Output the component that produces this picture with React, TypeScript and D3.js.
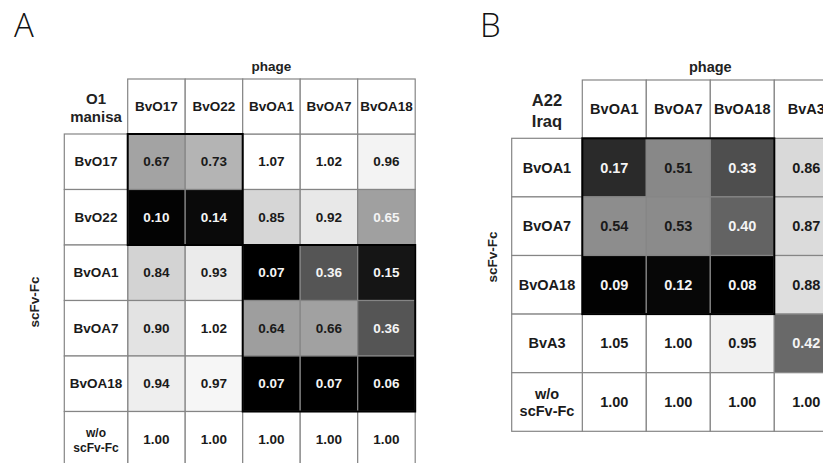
import React from "react";
import * as d3 from "d3";

// ---------- Panel A data ----------
const colsA = ["BvO17", "BvO22", "BvOA1", "BvOA7", "BvOA18"];
const rowsA = ["BvO17", "BvO22", "BvOA1", "BvOA7", "BvOA18", "w/o scFv-Fc"];
const valuesA: number[][] = [
  [0.67, 0.73, 1.07, 1.02, 0.96],
  [0.10, 0.14, 0.85, 0.92, 0.65],
  [0.84, 0.93, 0.07, 0.36, 0.15],
  [0.90, 1.02, 0.64, 0.66, 0.36],
  [0.94, 0.97, 0.07, 0.07, 0.06],
  [1.00, 1.00, 1.00, 1.00, 1.00],
];
const cornerA = ["O1", "manisa"];
// blocks outlined in black: [firstRow, lastRow, firstCol, lastCol]
const blocksA: [number, number, number, number][] = [
  [0, 1, 0, 1],
  [2, 4, 2, 4],
];

// ---------- Panel B data ----------
const colsB = ["BvOA1", "BvOA7", "BvOA18", "BvA3"];
const rowsB = ["BvOA1", "BvOA7", "BvOA18", "BvA3", "w/o scFv-Fc"];
const valuesB: number[][] = [
  [0.17, 0.51, 0.33, 0.86],
  [0.54, 0.53, 0.40, 0.87],
  [0.09, 0.12, 0.08, 0.88],
  [1.05, 1.00, 0.95, 0.42],
  [1.00, 1.00, 1.00, 1.00],
];
const cornerB = ["A22", "Iraq"];
const blocksB: [number, number, number, number][] = [[0, 2, 0, 2]];

const columnTitle = "phage";
const rowTitle = "scFv-Fc";
// cells whose value label is printed in white despite a light-ish fill
const whiteLabelCells = ["BvO22|BvOA18"];

const grey = d3
  .scaleLinear<number>()
  .domain([0.08, 0.14, 0.17, 0.36, 0.51, 0.67, 0.85, 0.92, 1.0])
  .range([0, 10, 42, 85, 136, 163, 214, 232, 255])
  .clamp(true);
const fillFor = (v: number) => {
  const g = Math.round(grey(v));
  return d3.rgb(g, g, g).formatHex();
};

const FONT = "'Liberation Sans', Arial, sans-serif";
const LINE = "#858585";

type PanelProps = {
  letter: string;
  letterX: number;
  cols: string[];
  rows: string[];
  values: number[][];
  corner: string[];
  blocks: [number, number, number, number][];
  x0: number;
  colW: number;
  headerTop: number;
  headerBottom: number;
  rowH: number;
  labelLeft: number;
  fs: number;
  labelFs: number;
  woFs: number;
  woDy: [number, number];
  cornerFs: number;
  cornerY: [number, number];
  rowTitleX: number;
  rowTitleY: number;
  rowTitleFs: number;
};

function Panel(p: PanelProps) {
  const x = d3
    .scaleBand<string>()
    .domain(p.cols)
    .range([p.x0, p.x0 + p.colW * p.cols.length]);
  const y = d3
    .scaleBand<string>()
    .domain(p.rows)
    .range([p.headerBottom, p.headerBottom + p.rowH * p.rows.length]);
  const right = x.range()[1];
  const labelCx = (p.labelLeft + p.x0) / 2;
  const midX = (p.x0 + right) / 2;
  const bw = x.bandwidth();
  const bh = y.bandwidth();
  return (
    <g>
      <text
        x={p.letterX}
        y={37}
        fontFamily="'Open Sans', 'Noto Sans', sans-serif"
        fontWeight={300}
        fontSize={33}
        fill="#111"
      >
        {p.letter}
      </text>
      {/* phage title */}
      <text
        x={midX}
        y={p.headerTop - 8}
        textAnchor="middle"
        fontFamily={FONT}
        fontWeight="bold"
        fontSize={p.fs}
        fill="#222"
      >
        {columnTitle}
      </text>
      {/* row title */}
      <text
        transform={`translate(${p.rowTitleX},${p.rowTitleY}) rotate(-90)`}
        textAnchor="middle"
        dominantBaseline="central"
        fontFamily={FONT}
        fontWeight="bold"
        fontSize={p.rowTitleFs}
        fill="#222"
      >
        {rowTitle}
      </text>
      {/* corner label */}
      {p.corner.map((t, i) => (
        <text
          key={t}
          x={labelCx}
          y={p.cornerY[i]}
          textAnchor="middle"
          fontFamily={FONT}
          fontWeight="bold"
          fontSize={p.cornerFs}
          fill="#222"
        >
          {t}
        </text>
      ))}
      {/* cells */}
      {p.rows.map((r, i) =>
        p.cols.map((c, j) => {
          const v = p.values[i][j];
          const white = v < 0.45 || whiteLabelCells.includes(`${r}|${c}`);
          return (
            <g key={`${r}-${c}`}>
              <rect
                x={x(c)}
                y={y(r)}
                width={bw}
                height={bh}
                fill={fillFor(v)}
                stroke={LINE}
                strokeWidth={1.2}
              />
              <text
                x={(x(c) as number) + bw / 2}
                y={(y(r) as number) + bh / 2}
                textAnchor="middle"
                dominantBaseline="central"
                fontFamily={FONT}
                fontWeight="bold"
                fontSize={p.fs}
                fill={white ? "#f4f4f4" : "#1a1a1a"}
              >
                {v.toFixed(2)}
              </text>
            </g>
          );
        })
      )}
      {/* column headers */}
      {p.cols.map((c) => (
        <g key={`h-${c}`}>
          <rect
            x={x(c)}
            y={p.headerTop}
            width={bw}
            height={p.headerBottom - p.headerTop}
            fill="#fff"
            stroke={LINE}
            strokeWidth={1.2}
          />
          <text
            x={(x(c) as number) + bw / 2}
            y={(p.headerTop + p.headerBottom) / 2}
            textAnchor="middle"
            dominantBaseline="central"
            fontFamily={FONT}
            fontWeight="bold"
            fontSize={p.fs}
            fill="#1a1a1a"
          >
            {c}
          </text>
        </g>
      ))}
      {/* row headers */}
      {p.rows.map((r) => {
        const parts = r.startsWith("w/o") ? ["w/o", "scFv-Fc"] : [r];
        const cy = (y(r) as number) + bh / 2;
        return (
          <g key={`r-${r}`}>
            <rect
              x={p.labelLeft}
              y={y(r)}
              width={p.x0 - p.labelLeft}
              height={bh}
              fill="#fff"
              stroke={LINE}
              strokeWidth={1.2}
            />
            {parts.map((t, k) => (
              <text
                key={t}
                x={labelCx}
                y={parts.length === 1 ? cy : cy + p.woDy[k]}
                textAnchor="middle"
                dominantBaseline="central"
                fontFamily={FONT}
                fontWeight="bold"
                fontSize={parts.length === 1 ? p.labelFs : p.woFs}
                fill="#1a1a1a"
              >
                {t}
              </text>
            ))}
          </g>
        );
      })}
      {/* outlined blocks */}
      {p.blocks.map(([r0, r1, c0, c1], k) => (
        <rect
          key={`b-${k}`}
          x={x(p.cols[c0])}
          y={y(p.rows[r0])}
          width={(x(p.cols[c1]) as number) + bw - (x(p.cols[c0]) as number)}
          height={(y(p.rows[r1]) as number) + bh - (y(p.rows[r0]) as number)}
          fill="none"
          stroke="#000"
          strokeWidth={2}
        />
      ))}
    </g>
  );
}

export default function App() {
  return (
    <svg
      width={823}
      height={463}
      style={{ position: "absolute", left: 0, top: 0, background: "#fff" }}
    >
      <rect width={823} height={463} fill="#fff" />
      <Panel
        letter="A"
        letterX={14}
        cols={colsA}
        rows={rowsA}
        values={valuesA}
        corner={cornerA}
        blocks={blocksA}
        x0={127.7}
        colW={57.5}
        headerTop={79}
        headerBottom={134}
        rowH={55.5}
        labelLeft={64.3}
        fs={13.5}
        labelFs={13.5}
        woFs={12}
        woDy={[-6.5, 9]}
        cornerFs={15}
        cornerY={[104, 122]}
        rowTitleX={34}
        rowTitleY={302}
        rowTitleFs={13.5}
      />
      <Panel
        letter="B"
        letterX={480}
        cols={colsB}
        rows={rowsB}
        values={valuesB}
        corner={cornerB}
        blocks={blocksB}
        x0={582.3}
        colW={64}
        headerTop={80}
        headerBottom={138.3}
        rowH={58.6}
        labelLeft={511.7}
        fs={14.5}
        labelFs={14.5}
        woFs={14.5}
        woDy={[-8, 9]}
        cornerFs={16.5}
        cornerY={[106, 127]}
        rowTitleX={492}
        rowTitleY={257}
        rowTitleFs={13.5}
      />
    </svg>
  );
}
